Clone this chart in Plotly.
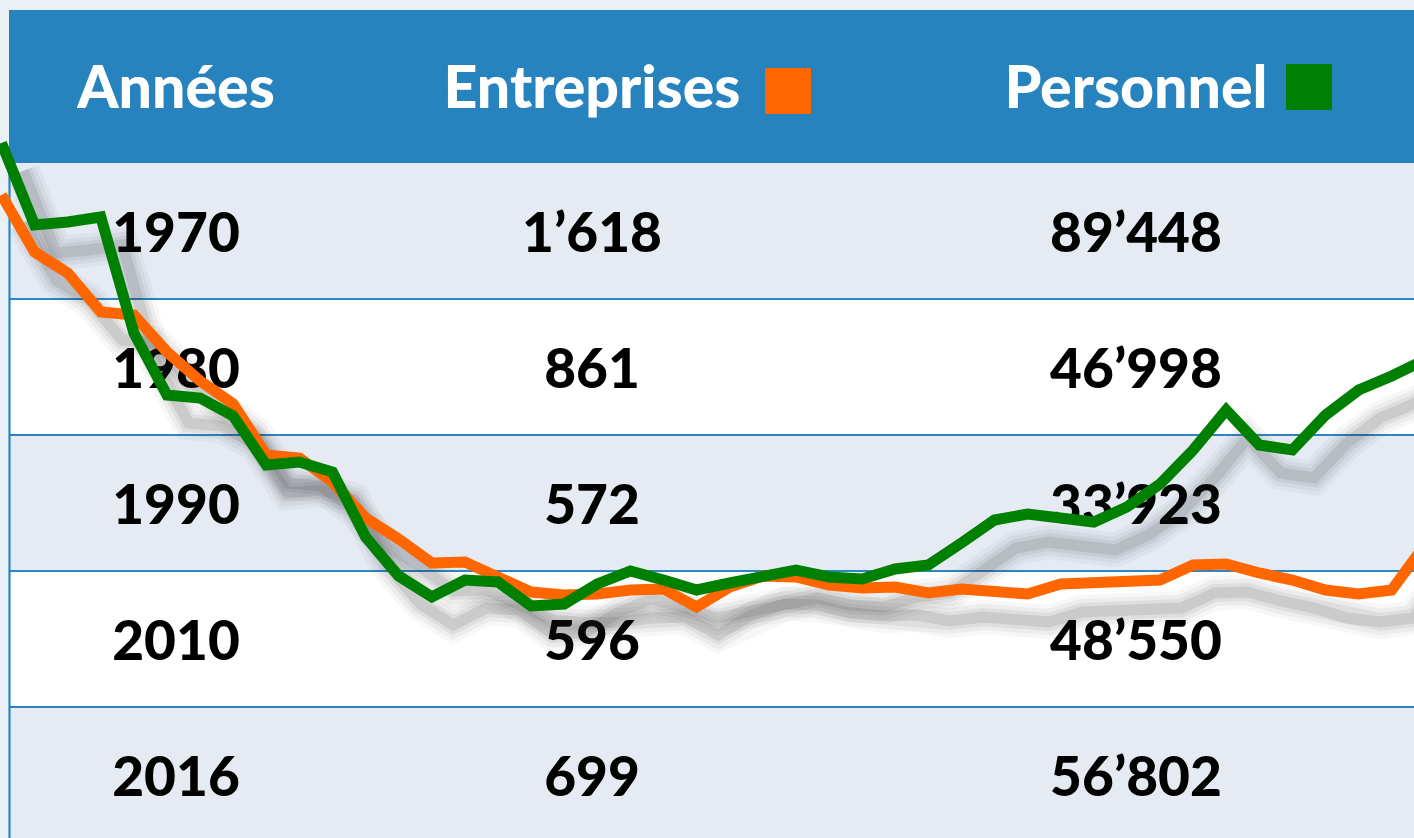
import plotly.graph_objects as go

# ---------------- data ----------------
years = ["1970", "1980", "1990", "2010", "2016"]
entreprises = ["1’618", "861", "572", "596", "699"]
personnel = ["89’448", "46’998", "33’923", "48’550", "56’802"]
headers = ["Années", "Entreprises", "Personnel"]

# decorative trend lines (relative index values)
trend_entreprises = [643, 586, 565, 526, 523, 486, 457, 434, 383, 380, 356, 320, 299, 275,
                     276, 260, 246, 243, 244, 248, 249, 231, 251, 262, 261, 253, 250, 251,
                     245, 249, 247, 244, 254, 255, 257, 258, 273, 274, 265, 258, 248, 244,
                     248, 293]
trend_personnel = [695, 613, 616, 621, 505, 443, 440, 422, 373, 376, 366, 301, 262, 241,
                   258, 256, 232, 234, 254, 267, 258, 248, 255, 262, 268, 261, 259, 269,
                   273, 295, 318, 324, 321, 316, 331, 354, 388, 428, 393, 388, 423, 448,
                   462, 478]
steps = list(range(len(trend_entreprises)))

# ---------------- layout constants ----------------
W, H = 1414, 838
TABLE_LEFT, TABLE_TOP, HEADER_BOTTOM, ROW_H = 9, 10, 163, 136
COL_X = [176, 592, 1136]
HEADER_Y = 93
BLUE = "#2783bd"
ROW_LIGHT = "#e6ebf3"
GRID = "#2e86c1"
ORANGE = "#ff6600"
GREEN = "#008000"
FONT = "Lato"
FS = 55
FS_HEAD = 59

fig = go.Figure()

shapes = []
# header
shapes.append(dict(type="rect", xref="x", yref="y", x0=TABLE_LEFT, x1=W + 5, y0=TABLE_TOP,
                   y1=HEADER_BOTTOM, fillcolor=BLUE, line_width=0, layer="below"))
# rows
for k in range(len(years)):
    y0 = HEADER_BOTTOM + ROW_H * k
    y1 = y0 + ROW_H if k < len(years) - 1 else H + 5
    shapes.append(dict(type="rect", xref="x", yref="y", x0=TABLE_LEFT, x1=W + 5, y0=y0, y1=y1,
                       fillcolor=ROW_LIGHT if k % 2 == 0 else "white", line_width=0,
                       layer="below"))
    if k > 0:
        shapes.append(dict(type="line", xref="x", yref="y", x0=TABLE_LEFT, x1=W + 5, y0=y0,
                           y1=y0, line=dict(color=GRID, width=2.2), layer="below"))
# left border
shapes.append(dict(type="line", xref="x", yref="y", x0=TABLE_LEFT + 0.5, x1=TABLE_LEFT + 0.5,
                   y0=HEADER_BOTTOM, y1=H + 5, line=dict(color=GRID, width=2.2), layer="below"))
# legend squares in header
shapes.append(dict(type="rect", xref="x", yref="y", x0=765, x1=811, y0=68, y1=114,
                   fillcolor=ORANGE, line_width=0, layer="below"))
shapes.append(dict(type="rect", xref="x", yref="y", x0=1286, x1=1332, y0=64, y1=110,
                   fillcolor=GREEN, line_width=0, layer="below"))

# header text
fig.add_trace(go.Scatter(x=COL_X, y=[HEADER_Y] * len(headers), text=headers, mode="text",
                         textposition="middle center",
                         textfont=dict(family=FONT, size=FS_HEAD, color="white", weight=900),
                         hoverinfo="skip", showlegend=False, xaxis="x", yaxis="y"))

# table body text (as trace, so the lines pass over it)
tx, ty, tt = [], [], []
for k in range(len(years)):
    yc = HEADER_BOTTOM + ROW_H * k + ROW_H / 2 + 7
    for j, val in enumerate([years[k], entreprises[k], personnel[k]]):
        tx.append(COL_X[j]); ty.append(yc); tt.append(val)

fig.add_trace(go.Scatter(x=tx, y=ty, text=tt, mode="text", textposition="middle center",
                         textfont=dict(family=FONT, size=FS, color="black", weight=900),
                         hoverinfo="skip", showlegend=False, xaxis="x", yaxis="y"))

# shadows
DX, DY = 0.65, -28
for series in (trend_entreprises, trend_personnel):
    for width, alpha in ((34, 0.035), (26, 0.05), (18, 0.07), (11, 0.1)):
        fig.add_trace(go.Scatter(x=[s + DX for s in steps], y=[v + DY for v in series],
                                 mode="lines", line=dict(color=f"rgba(40,40,40,{alpha})",
                                                         width=width),
                                 hoverinfo="skip", showlegend=False, xaxis="x2", yaxis="y2"))

fig.add_trace(go.Scatter(x=steps, y=trend_entreprises, mode="lines", name="Entreprises",
                         line=dict(color=ORANGE, width=11), hoverinfo="skip",
                         showlegend=False, xaxis="x2", yaxis="y2"))
fig.add_trace(go.Scatter(x=steps, y=trend_personnel, mode="lines", name="Personnel",
                         line=dict(color=GREEN, width=11), hoverinfo="skip",
                         showlegend=False, xaxis="x2", yaxis="y2"))

PX_STEP, PX0 = 33.1, 1.5
fig.update_layout(
    width=W, height=H, margin=dict(l=0, r=0, t=0, b=0),
    paper_bgcolor="#e9f1f7", plot_bgcolor="rgba(0,0,0,0)",
    shapes=shapes,
    xaxis=dict(range=[0, W], visible=False, fixedrange=True),
    yaxis=dict(range=[H, 0], visible=False, fixedrange=True),
    xaxis2=dict(range=[-PX0 / PX_STEP, (W - PX0) / PX_STEP], visible=False,
                overlaying="x", fixedrange=True),
    yaxis2=dict(range=[0, H], visible=False, overlaying="y", fixedrange=True),
    showlegend=False,
)

fig.write_html("out.html", config={"displayModeBar": False},
               post_script="document.body.style.margin='0';document.body.style.padding='0';"
                           "document.body.style.overflow='hidden';")
